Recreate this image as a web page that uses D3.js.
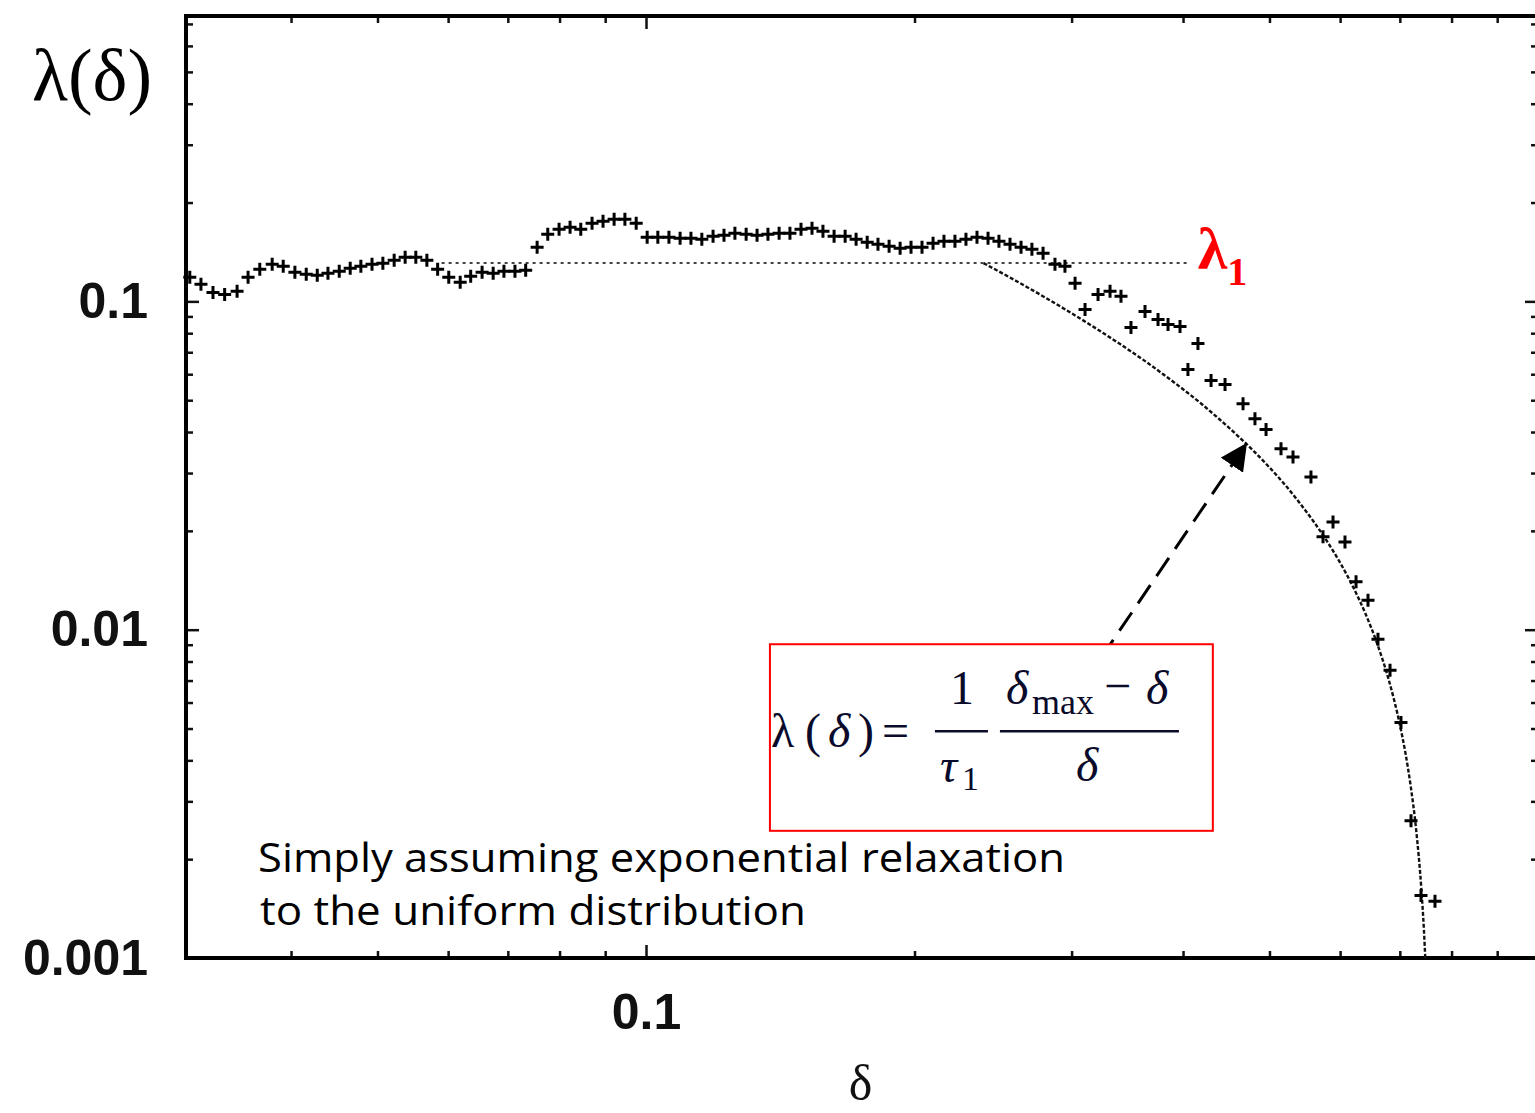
<!DOCTYPE html>
<html>
<head>
<meta charset="utf-8">
<script src="https://cdn.jsdelivr.net/npm/d3@7"></script>
<style>
  html, body { margin: 0; padding: 0; background: #fff; }
  svg { display: block; }
</style>
</head>
<body>
<div id="chart"></div>
<script>
const delta = [
  0.0308, 0.0317, 0.0327, 0.0337, 0.0348, 0.0358, 0.0369, 0.0381, 0.0392, 0.0404,
  0.0416, 0.0428, 0.0440, 0.0453, 0.0466, 0.0479, 0.0493, 0.0507, 0.0522, 0.0537,
  0.0552, 0.0568, 0.0584, 0.0601, 0.0619, 0.0636, 0.0655, 0.0674, 0.0693, 0.0713,
  0.0733, 0.0755, 0.0776, 0.0799, 0.0822, 0.0845, 0.0870, 0.0895, 0.0921, 0.0947,
  0.0975, 0.1003, 0.1031, 0.1061, 0.1092, 0.1123, 0.1155, 0.1189, 0.1223, 0.1258,
  0.1295, 0.1332, 0.1370, 0.1410, 0.1450, 0.1492, 0.1535, 0.1579, 0.1625, 0.1672,
  0.1720, 0.1770, 0.1820, 0.1873, 0.1927, 0.1982, 0.2039, 0.2098, 0.2158, 0.2220,
  0.2284, 0.2350, 0.2418, 0.2487, 0.2559, 0.2633, 0.2708, 0.2787, 0.2874, 0.2949,
  0.3027, 0.3106, 0.3212, 0.3313, 0.3408, 0.3497, 0.3626, 0.3750, 0.3848, 0.3969,
  0.4051, 0.4157, 0.4300, 0.4458, 0.4670, 0.4816, 0.4956, 0.5151, 0.5313, 0.5565,
  0.5741, 0.5891, 0.6076, 0.6252, 0.6448, 0.6616, 0.6825, 0.7021, 0.7205, 0.7393, 0.7665
];
const lambda = [
  0.1184, 0.1127, 0.1065, 0.1050, 0.1073, 0.1184, 0.1252, 0.1297, 0.1279, 0.1226,
  0.1209, 0.1201, 0.1218, 0.1235, 0.1261, 0.1279, 0.1297, 0.1306, 0.1334, 0.1363,
  0.1363, 0.1334, 0.1252, 0.1184, 0.1143, 0.1192, 0.1226, 0.1218, 0.1235, 0.1235,
  0.1244, 0.1462, 0.1602, 0.1659, 0.1683, 0.1659, 0.1731, 0.1755, 0.1780, 0.1780,
  0.1731, 0.1569, 0.1569, 0.1569, 0.1558, 0.1558, 0.1547, 0.1580, 0.1591, 0.1613,
  0.1602, 0.1591, 0.1602, 0.1613, 0.1613, 0.1659, 0.1671, 0.1636, 0.1580, 0.1580,
  0.1547, 0.1514, 0.1493, 0.1472, 0.1452, 0.1462, 0.1462, 0.1503, 0.1524, 0.1524,
  0.1547, 0.1569, 0.1558, 0.1524, 0.1493, 0.1462, 0.1442, 0.1402, 0.1297, 0.1279,
  0.1135, 0.0945, 0.1050, 0.1073, 0.1036, 0.0833, 0.0932, 0.0881, 0.0851, 0.0839,
  0.0620, 0.0744, 0.0574, 0.0558, 0.0488, 0.0439, 0.0407, 0.0356, 0.0336, 0.0292,
  0.0192, 0.0213, 0.0185, 0.0140, 0.0123, 0.00935, 0.00752, 0.00522, 0.00262, 0.00155, 0.00149
];

// Fitted curve (dotted)
const fitDelta = [
  0.239, 0.26, 0.28, 0.30, 0.32, 0.34, 0.36, 0.38, 0.40, 0.42, 0.44, 0.46, 0.48,
  0.50, 0.52, 0.54, 0.56, 0.58, 0.60, 0.62, 0.64, 0.66, 0.68, 0.70, 0.71, 0.72,
  0.73, 0.74, 0.745, 0.7475
];
const fitLambda = [
  0.1308, 0.1154, 0.1029, 0.0920, 0.0825, 0.0741, 0.0667, 0.0600, 0.0540, 0.0486,
  0.0436, 0.0391, 0.0350, 0.0312, 0.0277, 0.0244, 0.0214, 0.0186, 0.0160, 0.01355,
  0.01125, 0.00909, 0.00706, 0.00514, 0.00423, 0.00333, 0.00247, 0.00162, 0.00121, 0.0010
];

// lambda_1 plateau line
const lambda1 = 0.131;
const lambda1Span = [0.059, 0.407];

// Axes
const xDomain = [0.0305, 1.0];
const yDomain = [0.001, 0.74];
const xMajor = [0.1, 1];
const xMinor = [0.04, 0.05, 0.06, 0.07, 0.08, 0.09, 0.2, 0.3, 0.4, 0.5, 0.6, 0.7, 0.8, 0.9];
const yMajor = [0.001, 0.01, 0.1];
const yMinor = [0.002, 0.003, 0.004, 0.005, 0.006, 0.007, 0.008, 0.009,
  0.02, 0.03, 0.04, 0.05, 0.06, 0.07, 0.08, 0.09, 0.2, 0.3, 0.4, 0.5, 0.6, 0.7];
const xTickLabels = ['0.1'];
const yTickLabels = ['0.001', '0.01', '0.1'];

// Annotation anchors (data coords)
const xTitleAt = 0.174;
const arrowFrom = [0.3236, 0.0082];
const arrowTo = [0.470, 0.0365];
const boxDelta = [0.1377, 0.432];
const boxLambda = [0.00903, 0.00244];

(function () {
  const width = 1535;
  const height = 1113;
  const frame = { left: 186, right: 1538, top: 16, bottom: 958 };

  const svg = d3.select('#chart').append('svg')
    .attr('width', width)
    .attr('height', height);

  const x = d3.scaleLog().domain(xDomain).range([frame.left, frame.right]);
  const y = d3.scaleLog().domain(yDomain).range([frame.bottom, frame.top]);

  // Frame ticks, all pointing inward
  function ticks(axis, vals, size, transform) {
    svg.append('g')
      .attr('transform', transform)
      .call(axis.tickValues(vals).tickSize(size).tickFormat(''))
      .call(g => g.select('.domain').remove())
      .call(g => g.selectAll('line').attr('stroke', '#111').attr('stroke-width', 2.5));
  }
  ticks(d3.axisBottom(x), xMinor, -7, `translate(0,${frame.bottom})`);
  ticks(d3.axisBottom(x), xMajor, -13, `translate(0,${frame.bottom})`);
  ticks(d3.axisTop(x), xMinor, -7, `translate(0,${frame.top})`);
  ticks(d3.axisTop(x), xMajor, -13, `translate(0,${frame.top})`);
  ticks(d3.axisLeft(y), yMinor, -7, `translate(${frame.left},0)`);
  ticks(d3.axisLeft(y), yMajor, -13, `translate(${frame.left},0)`);
  ticks(d3.axisRight(y), yMinor, -7, `translate(${frame.right},0)`);
  ticks(d3.axisRight(y), yMajor, -13, `translate(${frame.right},0)`);

  // Tick labels
  const labelFont = "'Liberation Sans', Arial, sans-serif";
  svg.append('g')
    .attr('transform', `translate(${frame.left},0)`)
    .call(d3.axisLeft(y).tickValues(yMajor).tickSize(0).tickPadding(38)
      .tickFormat((d, i) => yTickLabels[i]))
    .call(g => g.select('.domain').remove())
    .call(g => g.selectAll('text')
      .attr('font-family', labelFont)
      .attr('font-weight', 'bold')
      .attr('font-size', 50)
      .attr('fill', '#111'));

  svg.append('g')
    .attr('transform', `translate(0,${frame.bottom})`)
    .call(d3.axisBottom(x).tickValues([0.1]).tickSize(0).tickPadding(35)
      .tickFormat((d, i) => xTickLabels[i]))
    .call(g => g.select('.domain').remove())
    .call(g => g.selectAll('text')
      .attr('font-family', labelFont)
      .attr('font-weight', 'bold')
      .attr('font-size', 50)
      .attr('fill', '#111'));

  // Frame
  svg.append('rect')
    .attr('x', frame.left)
    .attr('y', frame.top)
    .attr('width', frame.right - frame.left)
    .attr('height', frame.bottom - frame.top)
    .attr('fill', 'none')
    .attr('stroke', '#000')
    .attr('stroke-width', 4);

  // Axis titles
  const serif = "'Liberation Serif', 'Times New Roman', serif";
  svg.append('text')
    .attr('x', 32)
    .attr('y', 100)
    .attr('font-family', serif)
    .attr('font-size', 74)
    .attr('fill', '#000')
    .text('λ(δ)');

  svg.append('text')
    .attr('x', x(xTitleAt))
    .attr('y', 1100)
    .attr('text-anchor', 'middle')
    .attr('font-family', serif)
    .attr('font-size', 50)
    .attr('fill', '#111')
    .text('δ');

  // lambda_1 line
  svg.append('line')
    .attr('x1', x(lambda1Span[0]))
    .attr('x2', x(lambda1Span[1]))
    .attr('y1', y(lambda1))
    .attr('y2', y(lambda1))
    .attr('stroke', '#444')
    .attr('stroke-width', 2)
    .attr('stroke-dasharray', '3,4');

  // Fit curve
  const fitPts = d3.zip(fitDelta, fitLambda);
  svg.append('path')
    .datum(fitPts)
    .attr('fill', 'none')
    .attr('stroke', '#111')
    .attr('stroke-width', 2.4)
    .attr('stroke-dasharray', '4,2')
    .attr('d', d3.line().x(d => x(d[0])).y(d => y(d[1])).curve(d3.curveMonotoneX));

  // Data points as plus markers
  const pts = d3.zip(delta, lambda);
  svg.append('g')
    .selectAll('path.pt')
    .data(pts)
    .enter()
    .append('path')
    .attr('class', 'pt')
    .attr('transform', d => `translate(${x(d[0])},${y(d[1])})`)
    .attr('d', 'M-6.5,0H6.5M0,-6.5V6.5')
    .attr('stroke', '#000')
    .attr('stroke-width', 3)
    .attr('fill', 'none');

  // lambda_1 label
  const lab = svg.append('text')
    .attr('x', x(lambda1Span[1]) + 8)
    .attr('y', y(lambda1) + 6)
    .attr('font-family', serif)
    .attr('font-weight', 'bold')
    .attr('fill', '#ff0000');
  lab.append('tspan').attr('font-size', 60).text('λ');
  lab.append('tspan').attr('font-size', 40).attr('dy', 16).text('1');

  // Arrow
  svg.append('defs').append('marker')
    .attr('id', 'head')
    .attr('viewBox', '0 0 10 10')
    .attr('refX', 9)
    .attr('refY', 5)
    .attr('markerWidth', 9)
    .attr('markerHeight', 9)
    .attr('markerUnits', 'strokeWidth')
    .attr('orient', 'auto')
    .append('path')
    .attr('d', 'M0,0L10,5L0,10Z')
    .attr('fill', '#000');

  svg.append('line')
    .attr('x1', x(arrowFrom[0]))
    .attr('y1', y(arrowFrom[1]))
    .attr('x2', x(arrowTo[0]))
    .attr('y2', y(arrowTo[1]))
    .attr('stroke', '#000')
    .attr('stroke-width', 3)
    .attr('stroke-dasharray', '22,11')
    .attr('marker-end', 'url(#head)');

  // Formula box
  const bx = x(boxDelta[0]);
  const by = y(boxLambda[0]);
  const bw = x(boxDelta[1]) - bx;
  const bh = y(boxLambda[1]) - by;

  const fg = svg.append('g')
    .attr('transform', `translate(${bx},${by})`);
  fg.append('rect')
    .attr('width', bw)
    .attr('height', bh)
    .attr('fill', '#fff')
    .attr('stroke', '#ff0000')
    .attr('stroke-width', 2);

  const ink = '#0a0a2a';
  function ftext(tx, ty, s, size, italic) {
    fg.append('text')
      .attr('x', tx)
      .attr('y', ty)
      .attr('font-family', serif)
      .attr('font-size', size)
      .attr('font-style', italic ? 'italic' : 'normal')
      .attr('fill', ink)
      .text(s);
  }
  ftext(1, 103, 'λ', 48, false);
  ftext(35, 103, '(', 48, false);
  ftext(58, 103, 'δ', 48, true);
  ftext(88, 103, ')', 48, false);
  ftext(112, 103, '=', 48, false);
  ftext(180, 60, '1', 48, false);
  ftext(170, 138, 'τ', 48, true);
  ftext(192, 146, '1', 34, false);
  ftext(236, 60, 'δ', 48, true);
  ftext(262, 70, 'max', 36, false);
  ftext(334, 58, '−', 48, false);
  ftext(376, 60, 'δ', 48, true);
  ftext(306, 137, 'δ', 48, true);

  fg.append('line')
    .attr('x1', 165).attr('x2', 218)
    .attr('y1', 87).attr('y2', 87)
    .attr('stroke', ink).attr('stroke-width', 2.5);
  fg.append('line')
    .attr('x1', 230).attr('x2', 409)
    .attr('y1', 87).attr('y2', 87)
    .attr('stroke', ink).attr('stroke-width', 2.5);

  // Note text
  const note = svg.append('g')
    .attr('font-family', "'Open Sans', 'DejaVu Sans', sans-serif")
    .attr('font-size', 40)
    .attr('fill', '#000');
  note.append('text')
    .attr('x', 258).attr('y', 872)
    .attr('textLength', 807)
    .attr('lengthAdjust', 'spacingAndGlyphs')
    .text('Simply assuming exponential relaxation');
  note.append('text')
    .attr('x', 260).attr('y', 925)
    .attr('textLength', 546)
    .attr('lengthAdjust', 'spacingAndGlyphs')
    .text('to the uniform distribution');
})();
</script>
</body>
</html>
